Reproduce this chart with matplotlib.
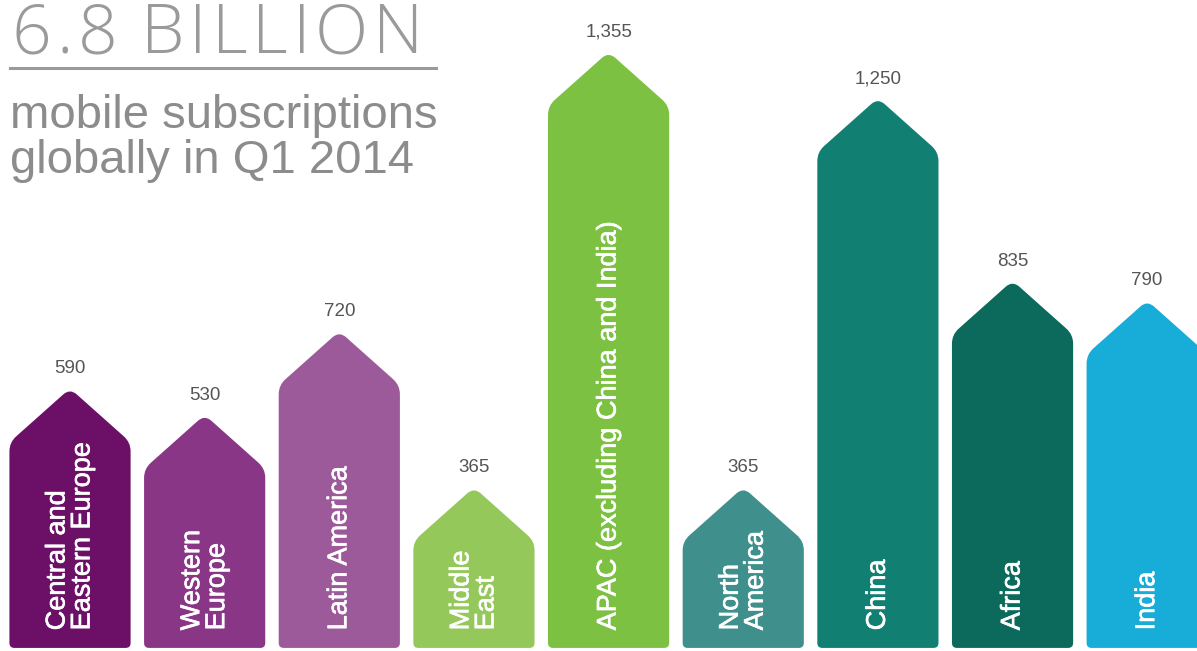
import numpy as np
import matplotlib
matplotlib.use("Agg")
import matplotlib.pyplot as plt
import matplotlib.patheffects as pe
from matplotlib.path import Path
from matplotlib.patches import PathPatch

# Data (millions of subscriptions, Q1 2014)
regions = ["Central and\nEastern Europe", "Western\nEurope", "Latin America",
           "Middle\nEast", "APAC (excluding China and India)", "North\nAmerica",
           "China", "Africa", "India"]
subscriptions = [590, 530, 720, 365, 1355, 365, 1250, 835, 790]
bar_colors = ["#6b0f67", "#8a3686", "#9c5a9b", "#95c85b", "#7cc142",
              "#3f8f8c", "#118073", "#0c6a5c", "#18acd9"]

title = "6.8 BILLION"
subtitle_lines = ["mobile subscriptions", "globally in Q1 2014"]

W, H = 1197, 651
fig = plt.figure(figsize=(W / 100, H / 100), dpi=100)
ax = fig.add_axes([0, 0, 1, 1])
ax.set_xlim(-0.52, 8.37)
ax.set_ylim(-7, 1473)
ax.axis("off")


def rounded_poly(pts, radii):
    verts, codes = [], []
    n = len(pts)
    for i in range(n):
        p = np.array(pts[i], float)
        prev = np.array(pts[i - 1], float)
        nxt = np.array(pts[(i + 1) % n], float)
        r = radii[i]
        a = p + r * (prev - p) / np.linalg.norm(prev - p)
        b = p + r * (nxt - p) / np.linalg.norm(nxt - p)
        verts += [a, p, b]
        codes += [Path.MOVETO if i == 0 else Path.LINETO, Path.CURVE3, Path.CURVE3]
    verts.append(verts[0])
    codes.append(Path.CLOSEPOLY)
    return np.array(verts), codes


def house(ax, xc, val, width, color, roof_px=54, r_top=9, r_bot=5):
    # build the arrow-house shape in pixels so the roof keeps its angle
    T = ax.transData
    x0, y0 = T.transform((xc - width / 2, 0))
    x1, _ = T.transform((xc + width / 2, 0))
    xm, ytop = T.transform((xc, val))
    ysh = ytop - roof_px
    pts = [(x0, y0), (x0, ysh), (xm, ytop), (x1, ysh), (x1, y0)]
    verts, codes = rounded_poly(pts, [r_bot, r_top, r_top, r_top, r_bot])
    verts = T.inverted().transform(verts)
    ax.add_patch(PathPatch(Path(verts, codes), facecolor=color, edgecolor="none"))


x = np.arange(len(regions))
for xi, v, c, name in zip(x, subscriptions, bar_colors, regions):
    house(ax, xi, v, 0.9, c)
    ax.annotate(f"{v:,}", (xi, v), xytext=(0, 15), textcoords="offset pixels",
                ha="center", va="baseline", fontsize=13.5, color="#555555",
                family="Liberation Sans")
    ax.text(xi, 40, name, rotation=90, ha="center", va="bottom",
            multialignment="left", linespacing=0.95, fontsize=19.5,
            color="white", family="Liberation Sans",
            path_effects=[pe.withStroke(linewidth=0.45, foreground="white")])

# headline, drawn letter by letter to get the wide tracking of the original
renderer = fig.canvas.get_renderer()
xpos = 12
tracking = 4.8
for ch in title:
    t = fig.text(xpos / W, 1 - 53 / H, ch, fontsize=50, color="#9a9a9a",
                 family="Open Sans", fontweight="light", va="baseline")
    if ch == " ":
        xpos += 14 + tracking
    else:
        xpos += t.get_window_extent(renderer).width + tracking

fig.add_artist(plt.Line2D([10 / W, 436 / W], [1 - 68 / H, 1 - 68 / H],
                          color="#9a9a9a", lw=2.2))
for i, line in enumerate(subtitle_lines):
    fig.text(10 / W, 1 - (128 + 45 * i) / H, line, fontsize=34,
             color="#8c8c8c", family="Liberation Sans", va="baseline")

fig.savefig("out.png", dpi=100, facecolor="white")
